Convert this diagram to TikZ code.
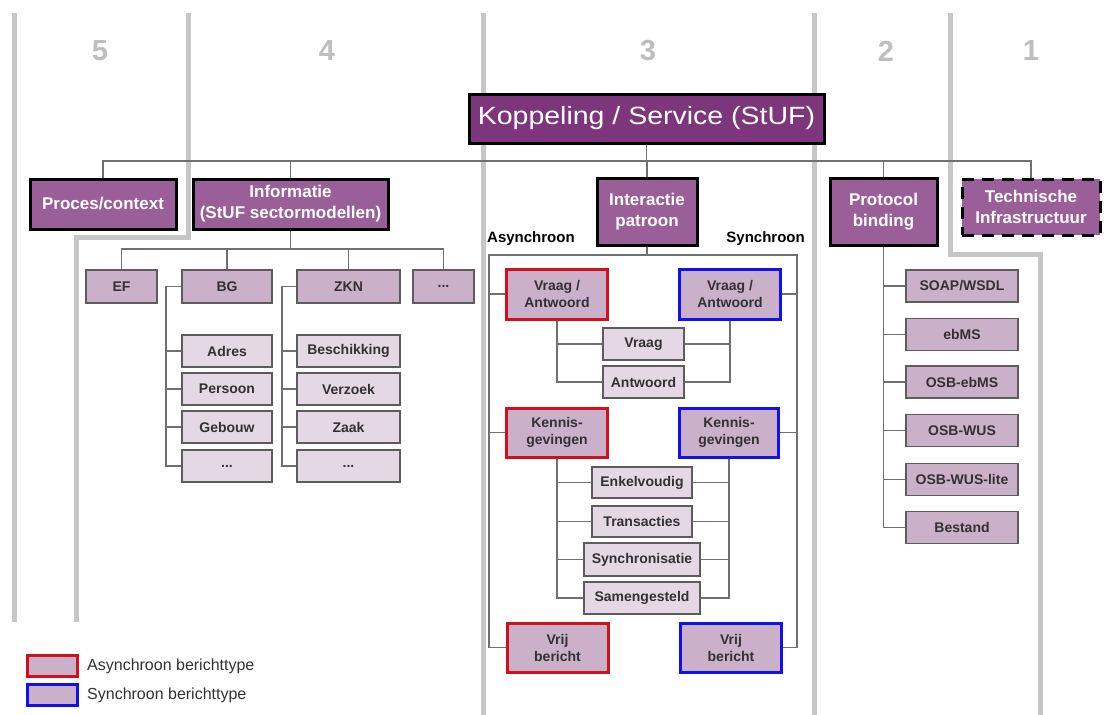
\documentclass[tikz,border=0pt]{standalone}
\usepackage{fontspec}
\setmainfont{Liberation Sans}
\usepackage{graphicx}
\definecolor{kopfill}{RGB}{125,54,123}
\definecolor{midfill}{RGB}{154,94,152}
\definecolor{lightfill}{RGB}{203,176,202}
\definecolor{palefill}{RGB}{229,216,229}
\definecolor{colgray}{RGB}{198,198,198}
\definecolor{conngray}{RGB}{112,112,112}
\definecolor{boxgray}{RGB}{92,92,92}
\definecolor{txtgray}{RGB}{50,50,50}
\definecolor{numgray}{RGB}{190,190,190}
\definecolor{asyncred}{RGB}{208,16,28}
\definecolor{syncblue}{RGB}{16,16,240}
\begin{document}
\begin{tikzpicture}[x=1pt,y=-1pt,
  colline/.style={draw=colgray,line width=5pt,line join=miter},
  conn/.style={draw=conngray,line width=1.3pt},
  topbox/.style={draw=black,fill=kopfill,line width=3pt,inner sep=0pt,text=white,
    font=\fontsize{25}{28}\selectfont},
  lvlone/.style={draw=black,fill=midfill,line width=3pt,inner sep=0pt,text=white,align=center,
    font=\fontsize{17}{21}\selectfont\bfseries},
  midbox/.style={draw=boxgray,fill=lightfill,line width=1.3pt,inner sep=0pt,text=txtgray,align=center,
    font=\fontsize{14}{17}\selectfont\bfseries},
  subbox/.style={midbox,fill=palefill},
  asyncbox/.style={midbox,draw=asyncred,line width=3pt},
  syncbox/.style={midbox,draw=syncblue,line width=3pt},
  numlabel/.style={text=numgray,font=\fontsize{29}{32}\selectfont\bfseries},
  sidelabel/.style={text=black,font=\fontsize{15}{18}\selectfont\bfseries,inner sep=0pt},
  legendtext/.style={text=txtgray,font=\fontsize{16}{19}\selectfont,inner sep=0pt,anchor=west}
]
\useasboundingbox (0,0) rectangle (1109,715);

% layer separators
\draw[colline] (14,13) -- (14,622);
\draw[colline] (188,13) -- (188,237) -- (76,237) -- (76,622);
\draw[colline] (483,13) -- (483,715);
\draw[colline] (814,13) -- (814,715);
\draw[colline] (950,13) -- (950,254) -- (1040,254) -- (1040,715);

% layer numbers
\node[numlabel] (n5) at (100,51) {5};
\node[numlabel] (n4) at (327,51) {4};
\node[numlabel] (n3) at (648,51) {3};
\node[numlabel] (n2) at (886,51) {2};
\node[numlabel] (n1) at (1031,51) {1};

% top level
\node[topbox,minimum width=355,minimum height=49] (kop) at (646.5,118.5)
  {\scalebox{1.14}[1]{Koppeling / Service (StUF)}};

\node[lvlone,minimum width=146,minimum height=50] (proc) at (103,204) {Proces/context};
\node[lvlone,minimum width=195,minimum height=50] (info) at (290.5,204) {Informatie\\(StUF sectormodellen)};
\node[lvlone,minimum width=100,minimum height=67] (ip) at (647,211.5) {Interactie\\patroon};
\node[lvlone,minimum width=107,minimum height=67] (pb) at (883.5,211.5) {Protocol\\binding};
\node[lvlone,dash pattern=on 12pt off 8pt,minimum width=138,minimum height=56] (tech) at (1031,207) {Technische\\Infrastructuur};

% sector models
\node[midbox,minimum width=71,minimum height=33] (ef) at (121.5,286.5) {EF};
\node[midbox,minimum width=90,minimum height=33] (bg) at (227,286.5) {BG};
\node[midbox,minimum width=103,minimum height=33] (zkn) at (348.5,286.5) {ZKN};
\node[midbox,minimum width=61,minimum height=33] (sdots) at (443.5,286.5) {...};

\node[subbox,minimum width=90,minimum height=32] (adres) at (227,351) {Adres};
\node[subbox,minimum width=90,minimum height=32] (pers) at (227,389) {Persoon};
\node[subbox,minimum width=90,minimum height=32] (geb) at (227,427) {Gebouw};
\node[subbox,minimum width=90,minimum height=32] (bgdots) at (227,466) {...};

\node[subbox,minimum width=103,minimum height=32] (besch) at (348.5,351) {Beschikking};
\node[subbox,minimum width=103,minimum height=32] (verz) at (348.5,389) {Verzoek};
\node[subbox,minimum width=103,minimum height=32] (zaak) at (348.5,427) {Zaak};
\node[subbox,minimum width=103,minimum height=32] (zkdots) at (348.5,466) {...};

% interaction patterns
\node[sidelabel,anchor=west] (asl) at (487,239) {Asynchroon};
\node[sidelabel,anchor=east] (syl) at (805,239) {Synchroon};

\node[asyncbox,minimum width=101,minimum height=50] (ava) at (557,294) {Vraag /\\Antwoord};
\node[asyncbox,minimum width=101,minimum height=49] (akg) at (557,432.5) {Kennis-\\gevingen};
\node[asyncbox,minimum width=101,minimum height=49] (avb) at (557.5,647.5) {Vrij\\bericht};
\node[syncbox,minimum width=101,minimum height=50] (sva) at (730,294) {Vraag /\\Antwoord};
\node[syncbox,minimum width=99,minimum height=49] (skg) at (729,432.5) {Kennis-\\gevingen};
\node[syncbox,minimum width=101,minimum height=49] (svb) at (731,647.5) {Vrij\\bericht};

\node[subbox,minimum width=81,minimum height=32] (vraag) at (643.5,344) {Vraag};
\node[subbox,minimum width=81,minimum height=32] (antw) at (643.5,382) {Antwoord};
\node[subbox,minimum width=100,minimum height=31] (enkel) at (642,482.5) {Enkelvoudig};
\node[subbox,minimum width=100,minimum height=31] (trans) at (642,521.5) {Transacties};
\node[subbox,minimum width=116,minimum height=33] (synch) at (642,559.5) {Synchronisatie};
\node[subbox,minimum width=116,minimum height=32] (samen) at (642,598) {Samengesteld};

% protocol bindings
\node[midbox,minimum width=112,minimum height=32] (soap) at (962,286) {SOAP/WSDL};
\node[midbox,minimum width=112,minimum height=32] (ebms) at (962,334.5) {ebMS};
\node[midbox,minimum width=112,minimum height=32] (osbeb) at (962,382) {OSB-ebMS};
\node[midbox,minimum width=112,minimum height=32] (osbwus) at (962,430.5) {OSB-WUS};
\node[midbox,minimum width=112,minimum height=32] (osblite) at (962,479.5) {OSB-WUS-lite};
\node[midbox,minimum width=112,minimum height=32] (best) at (962,527.5) {Bestand};

% legend
\node[midbox,draw=asyncred,line width=3pt,minimum width=50,minimum height=21] (legA) at (52,665.5) {};
\node[midbox,draw=syncblue,line width=3pt,minimum width=50,minimum height=21] (legS) at (52,694.5) {};
\node[legendtext] (legAt) at (87,666) {Asynchroon berichttype};
\node[legendtext] (legSt) at (87,695) {Synchroon berichttype};

% connectors
\coordinate (bus) at (0,161);
\coordinate (ibus) at (0,249);
\coordinate (bgsp) at (166,0);
\coordinate (zksp) at (282,0);
\coordinate (ftop) at (0,255);
\coordinate (fl) at (489,0);
\coordinate (fr) at (797,0);

\draw[conn] (kop.south) -- (kop.south |- bus);
\draw[conn] (proc.north) -- (proc.north |- bus) -- (tech.north |- bus) -- (tech.north);
\draw[conn] (info.north) -- (info.north |- bus);
\draw[conn] (ip.north) -- (ip.north |- bus);
\draw[conn] (pb.north) -- (pb.north |- bus);

\draw[conn] (info.south) -- (info.south |- ibus);
\draw[conn] (ef.north) -- (ef.north |- ibus) -- (sdots.north |- ibus) -- (sdots.north);
\draw[conn] (bg.north) -- (bg.north |- ibus);
\draw[conn] (zkn.north) -- (zkn.north |- ibus);

\draw[conn] (bg.west) -- (bg.west -| bgsp) -- (bgsp |- bgdots.west) -- (bgdots.west);
\draw[conn] (bgsp |- adres.west) -- (adres.west);
\draw[conn] (bgsp |- pers.west) -- (pers.west);
\draw[conn] (bgsp |- geb.west) -- (geb.west);
\draw[conn] (zkn.west) -- (zkn.west -| zksp) -- (zksp |- zkdots.west) -- (zkdots.west);
\draw[conn] (zksp |- besch.west) -- (besch.west);
\draw[conn] (zksp |- verz.west) -- (verz.west);
\draw[conn] (zksp |- zaak.west) -- (zaak.west);

\draw[conn] (ip.south) -- (ip.south |- ftop);
\draw[conn] (avb.west) -- (fl |- avb.west) -- (fl |- ftop) -- (fr |- ftop) -- (fr |- svb.east) -- (svb.east);
\draw[conn] (fl |- ava.west) -- (ava.west);
\draw[conn] (fl |- akg.west) -- (akg.west);
\draw[conn] (fr |- sva.east) -- (sva.east);
\draw[conn] (fr |- skg.east) -- (skg.east);

\draw[conn] (ava.south) |- (antw.west);
\draw[conn] (ava.south |- vraag.west) -- (vraag.west);
\draw[conn] (sva.south) |- (antw.east);
\draw[conn] (sva.south |- vraag.east) -- (vraag.east);

\draw[conn] (akg.south) |- (samen.west);
\draw[conn] (akg.south |- enkel.west) -- (enkel.west);
\draw[conn] (akg.south |- trans.west) -- (trans.west);
\draw[conn] (akg.south |- synch.west) -- (synch.west);
\draw[conn] (skg.south) |- (samen.east);
\draw[conn] (skg.south |- enkel.east) -- (enkel.east);
\draw[conn] (skg.south |- trans.east) -- (trans.east);
\draw[conn] (skg.south |- synch.east) -- (synch.east);

\draw[conn] (pb.south) |- (best.west);
\draw[conn] (pb.south |- soap.west) -- (soap.west);
\draw[conn] (pb.south |- ebms.west) -- (ebms.west);
\draw[conn] (pb.south |- osbeb.west) -- (osbeb.west);
\draw[conn] (pb.south |- osbwus.west) -- (osbwus.west);
\draw[conn] (pb.south |- osblite.west) -- (osblite.west);
\end{tikzpicture}
\end{document}
